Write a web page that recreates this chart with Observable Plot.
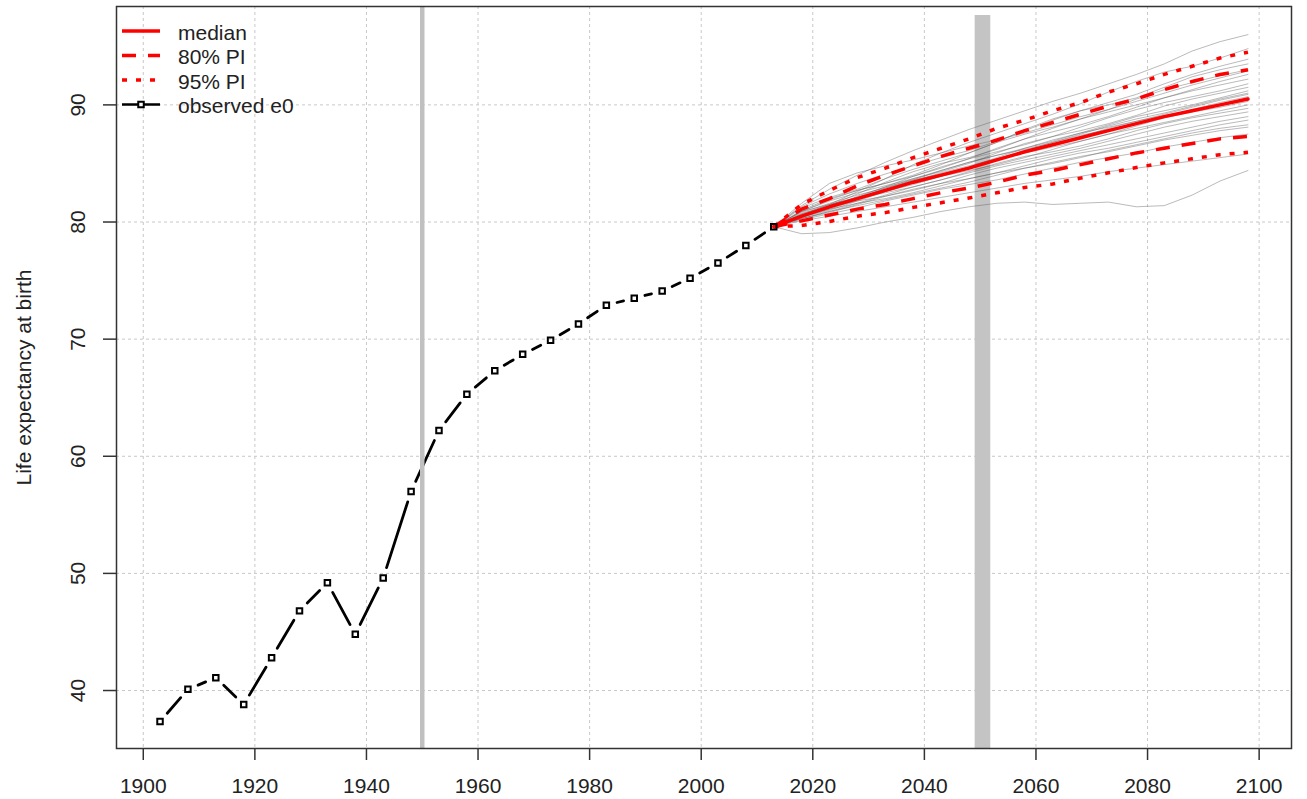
<!DOCTYPE html>
<html><head><meta charset="utf-8">
<script src="https://cdn.jsdelivr.net/npm/d3@7"></script>
<script src="https://cdn.jsdelivr.net/npm/@observablehq/plot@0.6"></script>
<style>
body{margin:0;background:#fff}
#wrap{position:relative;width:1307px;height:799px}
#wrap svg{display:block}
#legend{position:absolute;left:0;top:0;pointer-events:none}
</style>
</head><body><div id="wrap"></div>
<script>
// ---- data ----
const obsYears = [1903,1908,1913,1918,1923,1928,1933,1938,1943,1948,1953,1958,1963,1968,1973,1978,1983,1988,1993,1998,2003,2008,2013];
const obsE0 = [37.35,40.1,41.1,38.8,42.8,46.8,49.2,44.8,49.6,57.0,62.2,65.3,67.3,68.7,69.9,71.3,72.9,73.5,74.1,75.2,76.5,78.0,79.6];

const projYears = [2013,2018,2023,2028,2033,2038,2043,2048,2053,2058,2063,2068,2073,2078,2083,2088,2093,2098];
const median    = [79.6,80.5,81.3,82.0,82.7,83.4,84.0,84.6,85.3,86.0,86.6,87.2,87.8,88.4,89.0,89.5,90.0,90.5];
const pi80Upper = [79.6,81.1,82.0,83.1,84.0,84.8,85.6,86.3,87.0,87.8,88.5,89.2,89.9,90.5,91.3,92.0,92.6,93.0];
const pi80Lower = [79.6,80.1,80.6,81.1,81.5,82.0,82.5,82.9,83.4,84.0,84.4,84.9,85.4,85.9,86.3,86.7,87.1,87.3];
const pi95Upper = [79.6,81.5,82.7,83.8,84.6,85.5,86.3,87.1,88.0,88.7,89.5,90.2,91.1,91.8,92.6,93.3,94.0,94.5];
const pi95Lower = [79.6,79.7,80.05,80.5,80.8,81.25,81.65,82.05,82.5,82.95,83.25,83.75,84.2,84.65,85.05,85.4,85.75,85.95];

const trajectories = [
  [79.6,81.4,82.8,84.0,85.1,86.1,87.0,87.9,88.7,89.5,90.3,91.0,91.8,92.6,93.5,94.6,95.4,96.0],
  [79.6,81.2,82.1,82.8,83.7,84.9,85.9,86.8,87.6,88.4,89.2,90.1,91.1,92.0,92.8,93.3,94.0,94.8],
  [79.6,81.3,82.4,83.3,84.1,84.8,85.5,86.1,86.9,87.8,88.7,89.5,90.2,90.9,91.8,92.6,93.3,93.9],
  [79.6,80.6,81.5,82.6,83.7,84.5,85.2,85.9,86.8,87.9,88.8,89.5,90.0,90.6,91.5,92.4,93.0,93.5],
  [79.6,81.0,82.0,82.7,83.3,84.0,84.9,85.9,86.8,87.5,88.1,88.8,89.6,90.5,91.3,91.9,92.5,93.0],
  [79.6,80.5,81.4,82.4,83.4,84.3,85.0,85.5,86.2,87.1,88.0,88.8,89.4,90.0,90.6,91.3,92.0,92.6],
  [79.6,80.9,81.9,82.7,83.3,83.9,84.6,85.4,86.3,87.1,87.7,88.3,89.0,89.8,90.6,91.2,91.7,92.2],
  [79.6,80.6,81.3,82.1,83.0,83.9,84.7,85.4,86.0,86.6,87.3,88.1,88.9,89.6,90.2,90.7,91.2,91.8],
  [79.6,80.9,81.8,82.5,83.1,83.7,84.3,85.0,85.9,86.7,87.3,87.8,88.4,89.1,89.9,90.5,91.0,91.5],
  [79.6,80.5,81.2,82.0,82.9,83.7,84.4,85.1,85.7,86.3,86.9,87.6,88.3,89.0,89.5,90.0,90.6,91.2],
  [79.6,80.8,81.6,82.3,82.9,83.5,84.0,84.7,85.5,86.3,87.0,87.6,88.1,88.6,89.2,89.8,90.4,90.9],
  [79.6,80.4,81.1,81.9,82.7,83.5,84.2,84.8,85.4,86.0,86.6,87.3,88.0,88.6,89.1,89.5,90.0,90.6],
  [79.6,80.7,81.5,82.1,82.6,83.2,83.9,84.6,85.3,85.9,86.4,86.9,87.5,88.2,88.9,89.4,89.8,90.3],
  [79.6,80.4,81.0,81.8,82.6,83.3,83.9,84.4,84.9,85.5,86.2,86.9,87.5,88.0,88.5,89.0,89.5,90.0],
  [79.6,80.7,81.4,82.0,82.5,83.0,83.6,84.3,85.0,85.6,86.0,86.5,87.1,87.8,88.4,88.9,89.3,89.7],
  [79.6,80.3,80.9,81.6,82.3,83.0,83.6,84.2,84.8,85.3,85.8,86.3,86.9,87.5,88.1,88.6,89.0,89.4],
  [79.6,80.6,81.3,81.8,82.2,82.7,83.3,84.0,84.6,85.1,85.6,86.1,86.6,87.1,87.6,88.1,88.6,89.0],
  [79.6,80.3,80.8,81.5,82.2,82.8,83.3,83.7,84.2,84.8,85.4,85.9,86.3,86.8,87.3,87.8,88.3,88.7],
  [79.6,80.5,81.1,81.6,82.0,82.5,83.1,83.7,84.2,84.6,85.0,85.5,86.1,86.6,87.1,87.6,88.0,88.3],
  [79.6,80.3,80.9,81.4,81.9,82.4,82.9,83.4,84.0,84.6,85.1,85.6,86.0,86.5,87.0,87.4,87.8,88.1],
  [79.6,80.2,80.7,81.2,81.8,82.3,82.8,83.2,83.6,84.1,84.6,85.1,85.5,85.9,86.4,86.8,87.2,87.5],
  [79.6,80.1,80.5,80.9,81.3,81.7,82.1,82.5,82.9,83.3,83.6,83.9,84.3,84.6,84.9,85.2,85.5,85.8],
  [79.6,79.0,79.1,79.5,80.0,80.4,80.9,81.3,81.6,81.7,81.5,81.6,81.7,81.3,81.4,82.3,83.5,84.4],
  [79.6,81.6,83.3,84.2,84.8,85.3,85.9,86.5,87.0,87.6,88.3,89.0,89.6,90.3,91.0,91.7,92.3,92.9],
  [79.6,80.9,81.5,82.1,82.8,83.6,84.4,85.1,85.7,86.2,86.8,87.5,88.2,88.8,89.3,89.9,90.5,91.0],
  [79.6,80.4,81.2,82.2,83.0,83.6,84.1,84.7,85.4,86.1,86.8,87.4,87.9,88.4,89.0,89.6,90.2,90.7]
];

const xTicks = [1900,1920,1940,1960,1980,2000,2020,2040,2060,2080,2100];
const yTicks = [40,50,60,70,80,90];
const markerLineYear = [1950];
const markerBand = [{x1: 2049.1, x2: 2051.9, y1: 35.05, y2: 97.63}];
const yLabel = "Life expectancy at birth";

const legendItems = [
  {label: "median", stroke: "red", dash: null, width: 3.5, point: false},
  {label: "80% PI", stroke: "red", dash: "14,12", width: 3.5, point: false},
  {label: "95% PI", stroke: "red", dash: "5,9", width: 3.5, point: false},
  {label: "observed e0", stroke: "black", dash: null, width: 2.7, point: true}
];

// ---- derived tables ----
const obs = obsYears.map((x, i) => ({x, y: obsE0[i]}));
const segs = obs.slice(1).map((d, i) => ({x1: obs[i].x, y1: obs[i].y, x2: d.x, y2: d.y}));
const trajRows = trajectories.flatMap((t, k) => t.map((y, i) => ({id: k, x: projYears[i], y})));
const series = (arr) => projYears.map((x, i) => ({x, y: arr[i]}));

const FONT = "'Liberation Sans', Arial, sans-serif";
const TXT = "#222";

const chart = Plot.plot({
  width: 1307, height: 799,
  marginLeft: 116, marginRight: 16, marginTop: 6, marginBottom: 51,
  x: {domain: [1895.2, 2105.8]},
  y: {domain: [35.05, 98.4]},
  style: {fontFamily: FONT, fontSize: "21px", color: TXT, background: "#fff"},
  marks: [
    Plot.gridX(xTicks, {stroke: "#c8c8c8", strokeOpacity: 1, strokeDasharray: "3,3"}),
    Plot.gridY(yTicks, {stroke: "#c8c8c8", strokeOpacity: 1, strokeDasharray: "3,3"}),
    Plot.rect(markerBand, {x1: "x1", x2: "x2", y1: "y1", y2: "y2", fill: "#c4c4c4"}),
    Plot.line(trajRows, {x: "x", y: "y", z: "id", stroke: "#5a5a5a", strokeOpacity: 0.42, strokeWidth: 1}),
    Plot.line(series(pi95Upper), {x: "x", y: "y", stroke: "red", strokeWidth: 3.5, strokeDasharray: "5,9", strokeLinecap: "butt"}),
    Plot.line(series(pi95Lower), {x: "x", y: "y", stroke: "red", strokeWidth: 3.5, strokeDasharray: "5,9", strokeLinecap: "butt"}),
    Plot.line(series(pi80Upper), {x: "x", y: "y", stroke: "red", strokeWidth: 3.5, strokeDasharray: "14,12", strokeLinecap: "butt"}),
    Plot.line(series(pi80Lower), {x: "x", y: "y", stroke: "red", strokeWidth: 3.5, strokeDasharray: "14,12", strokeLinecap: "butt"}),
    Plot.line(series(median), {x: "x", y: "y", stroke: "red", strokeWidth: 3.5}),
    Plot.arrow(segs, {x1: "x1", y1: "y1", x2: "x2", y2: "y2", insetStart: 11, insetEnd: 11, headLength: 0, stroke: "black", strokeWidth: 2.8}),
    Plot.dot(obs, {x: "x", y: "y", symbol: "square", r: 3.1, stroke: "black", strokeWidth: 2, fill: "none"}),
    Plot.ruleX(markerLineYear, {stroke: "#c0c0c0", strokeWidth: 4.5}),
    Plot.frame({stroke: "#333", strokeWidth: 1.5}),
    Plot.axisX(xTicks, {tickSize: 12, tickPadding: 18, tickFormat: "d", label: null, stroke: "#333", strokeWidth: 1.5, fill: TXT, fontSize: 21}),
    Plot.axisY(yTicks, {tickSize: 13, tickFormat: () => "", label: null, stroke: "#333", strokeWidth: 1.5}),
    Plot.text(yTicks, {y: d => d, text: d => String(d), frameAnchor: "left", dx: -38, rotate: -90, textAnchor: "middle", lineAnchor: "middle", fill: TXT, fontSize: 21}),
    Plot.text([yLabel], {text: d => d, frameAnchor: "left", dx: -92, rotate: -90, textAnchor: "middle", lineAnchor: "middle", fill: TXT, fontSize: 21})
  ]
});

const wrap = document.getElementById("wrap");
wrap.appendChild(chart);

// ---- legend (layout overlay, not data) ----
const leg = d3.select(wrap).append("svg").attr("id", "legend")
  .attr("width", 1307).attr("height", 799)
  .style("font-family", FONT).style("font-size", "21px");
const rowY = [31, 55.5, 80, 104.5];
legendItems.forEach((it, i) => {
  const y = rowY[i];
  const ln = leg.append("line").attr("x1", 122).attr("x2", 160).attr("y1", y).attr("y2", y)
    .attr("stroke", it.stroke).attr("stroke-width", it.width);
  if (it.dash) ln.attr("stroke-dasharray", it.dash);
  if (it.point) {
    leg.append("rect").attr("x", 141 - 2.75).attr("y", y - 2.75).attr("width", 5.5).attr("height", 5.5)
      .attr("fill", "#fff").attr("stroke", "black").attr("stroke-width", 2);
  }
  leg.append("text").attr("x", 178).attr("y", y + 8.5).attr("fill", TXT).text(it.label);
});
</script>
</body></html>
